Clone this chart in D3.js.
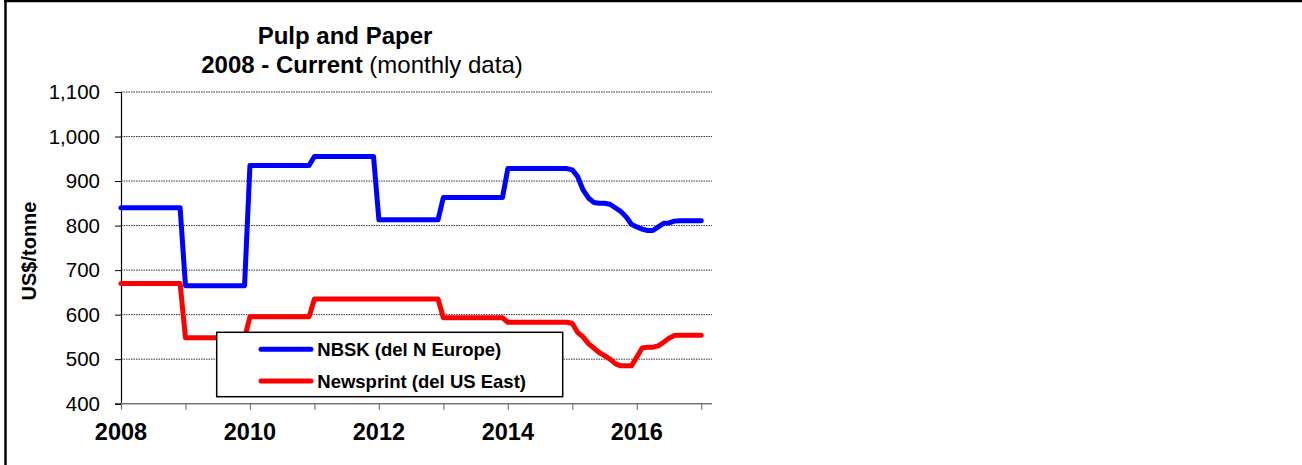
<!DOCTYPE html>
<html>
<head>
<meta charset="utf-8">
<script src="https://cdn.jsdelivr.net/npm/d3@7"></script>
<style>
  html, body { margin: 0; padding: 0; background: #fff; }
  svg { display: block; font-family: "Liberation Sans", Arial, sans-serif; }
</style>
</head>
<body>
<svg id="chart" width="1302" height="465"></svg>
<script>
// ---- Data (monthly, Jan 2008 .. Jan 2017) ----
const startYear = 2008;
const nbsk = [
  840,840,840,840,840,840,840,840,840,840,840,840,   // 2008
  665,665,665,665,665,665,665,665,665,665,665,665,   // 2009
  935,935,935,935,935,935,935,935,935,935,935,935,   // 2010
  955,955,955,955,955,955,955,955,955,955,955,955,   // 2011
  813,813,813,813,813,813,813,813,813,813,813,813,   // 2012
  863,863,863,863,863,863,863,863,863,863,863,863,   // 2013
  928,928,928,928,928,928,928,928,928,928,928,928,   // 2014
  925,910,880,862,852,850,850,848,840,832,820,803,   // 2015
  797,792,789,789,797,805,806,810,811,811,811,811,   // 2016
  811                                                // 2017
];
const newsprint = [
  670,670,670,670,670,670,670,670,670,670,670,670,   // 2008
  548,548,548,548,548,548,548,548,548,548,548,548,   // 2009
  595,595,595,595,595,595,595,595,595,595,595,595,   // 2010
  635,635,635,635,635,635,635,635,635,635,635,635,   // 2011
  635,635,635,635,635,635,635,635,635,635,635,635,   // 2012
  593,593,593,593,593,593,593,593,593,593,593,593,   // 2013
  583,583,583,583,583,583,583,583,583,583,583,583,   // 2014
  580,560,550,535,525,515,508,500,490,485,485,485,   // 2015
  505,525,527,527,530,538,547,553,554,554,554,554,   // 2016
  554                                                // 2017
];
const seriesNames = ["NBSK (del N Europe)", "Newsprint (del US East)"];
const seriesColors = ["#0000FF", "#FF0000"];
const yTicks = [400, 500, 600, 700, 800, 900, 1000, 1100];
const xTickYears = [2008, 2009, 2010, 2011, 2012, 2013, 2014, 2015, 2016, 2017];
const xLabelYears = [2008, 2010, 2012, 2014, 2016];
const titleLine1 = "Pulp and Paper";
const titleBold2 = "2008 - Current";
const titleNormal2 = " (monthly data)";
const yAxisTitle = "US$/tonne";

// ---- Layout ----
const svg = d3.select("#chart");
const plot = { left: 121, right: 712, top: 92, bottom: 403.7 };

const x = d3.scaleLinear()
  .domain([startYear, startYear + 110 / 12])
  .range([plot.left, plot.right]);
const y = d3.scaleLinear()
  .domain([400, 1100])
  .range([plot.bottom, plot.top]);

// Outer frame (only top and left edges visible)
svg.append("line").attr("x1", 4).attr("x2", 1302).attr("y1", 1).attr("y2", 1)
  .attr("stroke", "#000").attr("stroke-width", 2.5);
svg.append("line").attr("x1", 5.5).attr("x2", 5.5).attr("y1", 0).attr("y2", 465)
  .attr("stroke", "#000").attr("stroke-width", 2.5);

// Gridlines
svg.append("g").selectAll("line")
  .data(yTicks.filter(v => v > 400))
  .join("line")
  .attr("x1", plot.left).attr("x2", plot.right)
  .attr("y1", d => y(d)).attr("y2", d => y(d))
  .attr("stroke", "#333").attr("stroke-width", 1)
  .attr("stroke-dasharray", "1.5,1");

// Y axis
const yAxis = d3.axisLeft(y).tickValues(yTicks).tickSize(6).tickPadding(15)
  .tickFormat(d3.format(","));
const gy = svg.append("g").attr("transform", `translate(${plot.left},0)`).call(yAxis);
gy.select(".domain").attr("stroke", "#000").attr("stroke-width", 1.2);
gy.selectAll(".tick line").attr("stroke", "#000");
gy.selectAll(".tick text").attr("font-size", 20.5).attr("fill", "#000")
  .attr("font-family", "Liberation Sans, Arial, sans-serif");

// X axis
const xAxis = d3.axisBottom(x).tickValues(xTickYears).tickSize(6).tickFormat("");
const gx = svg.append("g").attr("transform", `translate(0,${plot.bottom})`).call(xAxis);
gx.select(".domain").attr("stroke", "#777").attr("stroke-width", 1.5)
  .attr("d", `M${plot.left},0H${plot.right}`);
gx.selectAll(".tick line").attr("stroke", "#777").attr("stroke-width", 1.2);

svg.append("g").selectAll("text")
  .data(xLabelYears)
  .join("text")
  .attr("x", d => x(d))
  .attr("y", 440)
  .attr("text-anchor", "middle")
  .attr("font-size", 23.5)
  .attr("font-weight", "bold")
  .text(d => d);

// Lines
const line = d3.line()
  .x((d, i) => x(startYear + i / 12))
  .y(d => y(d));
[nbsk, newsprint].forEach((s, k) => {
  svg.append("path")
    .datum(s)
    .attr("d", line)
    .attr("fill", "none")
    .attr("stroke", seriesColors[k])
    .attr("stroke-width", 5)
    .attr("stroke-linejoin", "round")
    .attr("stroke-linecap", "round");
});

// Title
svg.append("text")
  .attr("x", 345).attr("y", 44)
  .attr("text-anchor", "middle")
  .attr("font-size", 24).attr("font-weight", "bold")
  .text(titleLine1);
const t2 = svg.append("text")
  .attr("x", 362).attr("y", 73)
  .attr("text-anchor", "middle")
  .attr("font-size", 24);
t2.append("tspan").attr("font-weight", "bold").text(titleBold2);
t2.append("tspan").text(titleNormal2);

// Y axis title
svg.append("text")
  .attr("transform", "translate(36,251) rotate(-90)")
  .attr("text-anchor", "middle")
  .attr("font-size", 20).attr("font-weight", "bold")
  .text(yAxisTitle);

// Legend
const lg = svg.append("g");
lg.append("rect")
  .attr("x", 216.7).attr("y", 332.3)
  .attr("width", 346).attr("height", 64.4)
  .attr("fill", "#fff").attr("stroke", "#000").attr("stroke-width", 1.5);
seriesNames.forEach((name, k) => {
  const cy = 349.3 + k * 31.7;
  lg.append("line")
    .attr("x1", 261).attr("x2", 311)
    .attr("y1", cy).attr("y2", cy)
    .attr("stroke", seriesColors[k]).attr("stroke-width", 5)
    .attr("stroke-linecap", "round");
  lg.append("text")
    .attr("x", 317.3).attr("y", cy + 6.5)
    .attr("font-size", 18.5).attr("font-weight", "bold")
    .text(name);
});
</script>
</body>
</html>
